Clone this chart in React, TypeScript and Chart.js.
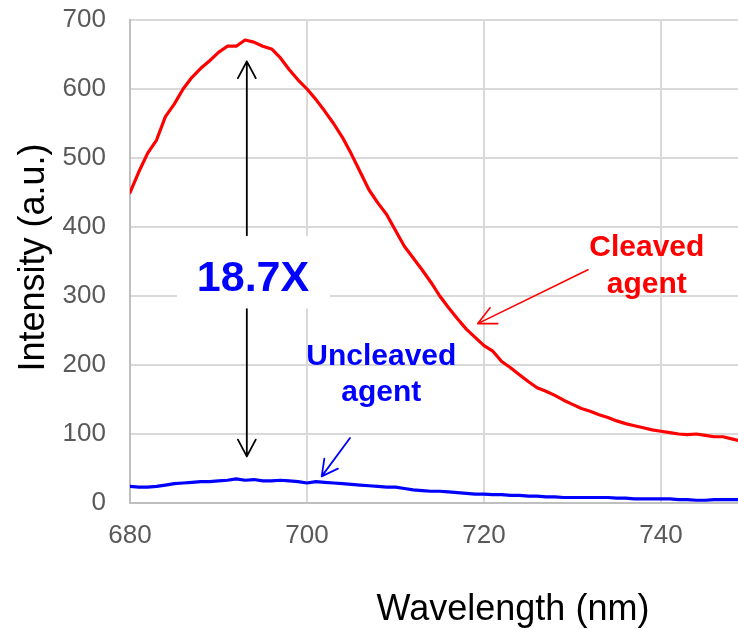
import { useEffect, useRef } from "react";
import { Chart, registerables } from "chart.js";

Chart.register(...registerables);

const wavelengths = [
  680, 681, 682, 683, 684, 685, 686, 687, 688, 689, 690, 691, 692, 693, 694, 695, 696, 697, 698, 699,
  700, 701, 702, 703, 704, 705, 706, 707, 708, 709, 710, 711, 712, 713, 714, 715, 716, 717, 718, 719,
  720, 721, 722, 723, 724, 725, 726, 727, 728, 729, 730, 731, 732, 733, 734, 735, 736, 737, 738, 739,
  740, 741, 742, 743, 744, 745, 746, 747, 748, 749,
];

const cleavedAgent = [
  450, 480, 507, 526, 560, 578, 600, 617, 630, 641, 653, 662, 662, 671, 668, 662, 658, 645, 628, 613,
  600, 585, 568, 550, 530, 506, 480, 454, 435, 418, 395, 372, 355, 338, 320, 300, 283, 267, 252, 240,
  228, 220, 205, 196, 186, 176, 167, 162, 156, 149, 143, 137, 133, 128, 124, 119, 115, 112, 109, 106,
  104, 102, 100, 99, 100, 98, 96, 96, 93, 90,
];

const uncleavedAgent = [
  24, 23, 23, 24, 26, 28, 29, 30, 31, 31, 32, 33, 35, 33, 34, 32, 32, 33, 32, 31,
  29, 31, 30, 29, 28, 27, 26, 25, 24, 23, 23, 21, 19, 18, 17, 17, 16, 15, 14, 13,
  13, 12, 12, 11, 11, 10, 10, 9, 9, 8, 8, 8, 8, 8, 8, 7, 7, 6, 6, 6,
  6, 6, 5, 5, 4, 4, 5, 5, 5, 5,
];

const xTickValues = [680, 700, 720, 740];
const yTickValues = [0, 100, 200, 300, 400, 500, 600, 700];

const xTitle = "Wavelength (nm)";
const yTitle = "Intensity (a.u.)";
const foldLabel = "18.7X";
const cleavedLabel = ["Cleaved", "agent"];
const uncleavedLabel = ["Uncleaved", "agent"];

const FONT = "'Liberation Sans', Arial, Helvetica, sans-serif";

function drawArrow(
  ctx: CanvasRenderingContext2D,
  x1: number, y1: number, x2: number, y2: number,
  color: string, width: number, head = 19, angle = (28 * Math.PI) / 180
) {
  ctx.save();
  ctx.strokeStyle = color;
  ctx.lineWidth = width;
  ctx.lineCap = "round";
  ctx.lineJoin = "round";
  ctx.beginPath();
  ctx.moveTo(x1, y1);
  ctx.lineTo(x2, y2);
  const a = Math.atan2(y2 - y1, x2 - x1);
  ctx.moveTo(x2 - head * Math.cos(a - angle), y2 - head * Math.sin(a - angle));
  ctx.lineTo(x2, y2);
  ctx.lineTo(x2 - head * Math.cos(a + angle), y2 - head * Math.sin(a + angle));
  ctx.stroke();
  ctx.restore();
}

const annotationPlugin = {
  id: "annotations",
  afterDraw(chart: any) {
    const ctx: CanvasRenderingContext2D = chart.ctx;
    const xs = chart.scales.x;
    const ys = chart.scales.y;
    const px = (v: number) => xs.getPixelForValue(v);
    const py = (v: number) => ys.getPixelForValue(v);
    const area = chart.chartArea;

    // axis titles
    ctx.save();
    ctx.fillStyle = "#000000";
    ctx.font = `36px ${FONT}`;
    ctx.textAlign = "center";
    ctx.textBaseline = "alphabetic";
    ctx.fillText(xTitle, 513, 620);
    ctx.translate(44, (area.top + area.bottom) / 2 - 4);
    ctx.rotate(-Math.PI / 2);
    ctx.fillText(yTitle, 0, 0);
    ctx.restore();

    // double arrow (fold change)
    const ax = px(693.2);
    const topY = py(640);
    const botY = py(67.5);
    drawArrow(ctx, ax, (topY + botY) / 2, ax, topY, "#000000", 1.8);
    drawArrow(ctx, ax, (topY + botY) / 2, ax, botY, "#000000", 1.8);

    // white label box
    ctx.save();
    ctx.fillStyle = "#ffffff";
    const bx1 = px(685.3), bx2 = px(702.6);
    const by1 = py(387), by2 = py(282);
    ctx.fillRect(bx1, by1, bx2 - bx1, by2 - by1);
    ctx.fillStyle = "#0000ff";
    ctx.font = `bold 43px ${FONT}`;
    ctx.textAlign = "center";
    ctx.textBaseline = "alphabetic";
    ctx.fillText(foldLabel, px(693.9), py(307));
    ctx.restore();

    // cleaved label
    ctx.save();
    ctx.fillStyle = "#ff0000";
    ctx.font = `bold 30px ${FONT}`;
    ctx.textAlign = "center";
    ctx.textBaseline = "alphabetic";
    ctx.fillText(cleavedLabel[0], px(738.4), py(358.4));
    ctx.fillText(cleavedLabel[1], px(738.4), py(305));
    ctx.restore();
    drawArrow(ctx, px(731.75), py(338), px(719.3), py(260), "#ff0000", 1.6, 20, (26 * Math.PI) / 180);

    // uncleaved label
    ctx.save();
    ctx.fillStyle = "#0000ff";
    ctx.font = `bold 30px ${FONT}`;
    ctx.textAlign = "center";
    ctx.textBaseline = "alphabetic";
    ctx.fillText(uncleavedLabel[0], px(708.4), py(200.4));
    ctx.fillText(uncleavedLabel[1], px(708.4), py(147.5));
    ctx.restore();
    drawArrow(ctx, px(704.86), py(94.2), px(701.66), py(38.6), "#0000ff", 1.8, 18, (28 * Math.PI) / 180);
  },
};

export default function App() {
  const canvasRef = useRef<HTMLCanvasElement | null>(null);

  useEffect(() => {
    document.body.style.margin = "0";
    const canvas = canvasRef.current;
    if (!canvas) return;
    const chart = new Chart(canvas, {
      type: "line",
      data: {
        datasets: [
          {
            label: "Cleaved agent",
            data: wavelengths.map((w, i) => ({ x: w, y: cleavedAgent[i] })),
            borderColor: "#ff0000",
            backgroundColor: "#ff0000",
            borderWidth: 3.2,
            pointRadius: 0,
            tension: 0,
            borderJoinStyle: "round",
            borderCapStyle: "round",
          },
          {
            label: "Uncleaved agent",
            data: wavelengths.map((w, i) => ({ x: w, y: uncleavedAgent[i] })),
            borderColor: "#0000ff",
            backgroundColor: "#0000ff",
            borderWidth: 3.2,
            pointRadius: 0,
            tension: 0,
            borderJoinStyle: "round",
            borderCapStyle: "round",
          },
        ],
      },
      options: {
        responsive: false,
        animation: false,
        devicePixelRatio: 1,
        layout: { padding: { top: 20, right: 0, left: 0, bottom: 0 } },
        plugins: {
          legend: { display: false },
          tooltip: { enabled: false },
        },
        scales: {
          x: {
            type: "linear",
            min: 680,
            max: 748.7,
            afterBuildTicks: (s: any) => {
              s.ticks = xTickValues.map((v) => ({ value: v }));
            },
            afterFit: (s: any) => {
              s.height = 126;
              s.paddingLeft = 0;
              s.paddingRight = 0;
            },
            grid: { color: "#d9d9d9", lineWidth: 2, drawTicks: false },
            border: { display: true, color: "#bfbfbf", width: 2 },
            ticks: {
              padding: 17,
              color: "#595959",
              font: { family: FONT, size: 26 },
              maxRotation: 0,
            },
          },
          y: {
            type: "linear",
            min: 0,
            max: 700,
            afterBuildTicks: (s: any) => {
              s.ticks = yTickValues.map((v) => ({ value: v }));
            },
            afterFit: (s: any) => {
              s.width = 130;
              s.paddingTop = 0;
              s.paddingBottom = 0;
            },
            grid: { color: "#d9d9d9", lineWidth: 2, drawTicks: false },
            border: { display: true, color: "#bfbfbf", width: 2 },
            ticks: {
              padding: 24,
              color: "#595959",
              font: { family: FONT, size: 26 },
            },
          },
        },
      },
      plugins: [annotationPlugin],
    } as any);
    return () => chart.destroy();
  }, []);

  return (
    <div style={{ position: "absolute", left: 0, top: 0, width: 738, height: 629 }}>
      <canvas ref={canvasRef} width={738} height={629} />
    </div>
  );
}
